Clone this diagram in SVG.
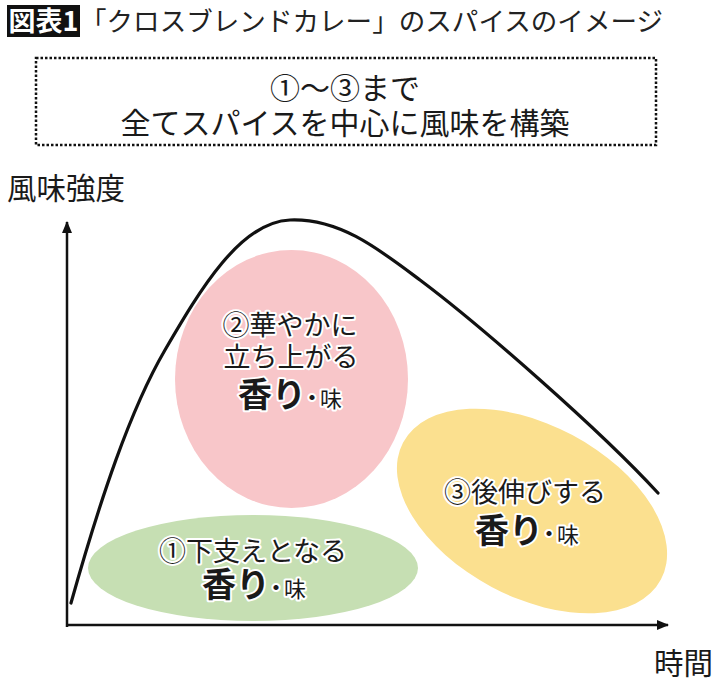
<svg xmlns="http://www.w3.org/2000/svg" width="720" height="682" viewBox="0 0 720 682">
<defs>
<style>
text{font-family:"Noto Sans CJK JP","Noto Sans",sans-serif;fill:#1a1a1a}
.lbl{font-size:27px;text-anchor:middle;stroke:#fff;stroke-width:4;stroke-linejoin:round;paint-order:stroke}
.kw{font-size:22px;stroke:#fff;stroke-width:4;stroke-linejoin:round;paint-order:stroke}
.big{font-size:34px;font-weight:bold}
.dot{font-size:20px;font-weight:bold}
.sm{font-size:22px}
.ax{stroke:#111;stroke-width:2.5;fill:none}
</style>
<marker id="arr" viewBox="0 0 12 10" refX="11" refY="5" markerWidth="12" markerHeight="10" markerUnits="userSpaceOnUse" orient="auto">
<path d="M0,0 L12,5 L0,10 Z" fill="#111"/>
</marker>
</defs>
<rect width="720" height="682" fill="#fff"/>
<g id="title">
<rect x="7" y="5" width="73" height="32" fill="#111"/>
<text x="43.5" y="31" font-size="27" font-weight="bold" text-anchor="middle" style="fill:#fff">図表1</text>
<text x="80" y="31" font-size="26.5" textLength="583" lengthAdjust="spacing" style="fill:#222">「クロスブレンドカレー」のスパイスのイメージ</text>
</g>
<g id="note">
<rect x="36" y="58" width="620" height="87" fill="none" stroke="#111" stroke-width="2.5" stroke-dasharray="2.5 2"/>
<text x="345" y="99" font-size="30" text-anchor="middle">①～③まで</text>
<text x="345" y="134" font-size="30" text-anchor="middle">全てスパイスを中心に風味を構築</text>
</g>
<g id="axis-labels">
<text x="7" y="199" font-size="29.5">風味強度</text>
<text x="654" y="674" font-size="29.5">時間</text>
</g>
<g id="node-green">
<ellipse cx="253" cy="568" rx="165" ry="53" fill="#c6dfb3"/>
<text class="lbl" x="253" y="561">①下支えとなる</text>
<text class="kw" x="202" y="597"><tspan class="big">香り</tspan><tspan class="dot" dx="-4" dy="-2">・</tspan><tspan class="sm" dx="-2" dy="2">味</tspan></text>
</g>
<g id="node-pink">
<ellipse cx="291.5" cy="379" rx="116.5" ry="129" fill="#f8c6c9"/>
<text class="lbl" x="290" y="335">②華やかに</text>
<text class="lbl" x="291" y="367">立ち上がる</text>
<text class="kw" x="238" y="407"><tspan class="big">香り</tspan><tspan class="dot" dx="-4" dy="-2">・</tspan><tspan class="sm" dx="-2" dy="2">味</tspan></text>
</g>
<g id="node-yellow">
<ellipse cx="532" cy="511" rx="146" ry="86" transform="rotate(28 532 511)" fill="#fbe08f"/>
<text class="lbl" x="525" y="502">③後伸びする</text>
<text class="kw" x="475" y="543"><tspan class="big">香り</tspan><tspan class="dot" dx="-4" dy="-2">・</tspan><tspan class="sm" dx="-2" dy="2">味</tspan></text>
</g>
<g id="connectors">
<line class="ax" x1="67" y1="627" x2="67" y2="222" marker-end="url(#arr)"/>
<line class="ax" x1="66" y1="625" x2="668" y2="625" marker-end="url(#arr)"/>
<path d="M71,603 C100,500 130,410 165,350 C200,290 240,222 290,220 C340,218 380,250 420,280 C480,325 600,430 658,493" fill="none" stroke="#111" stroke-width="3.2" stroke-linecap="round"/>
</g>
</svg>
